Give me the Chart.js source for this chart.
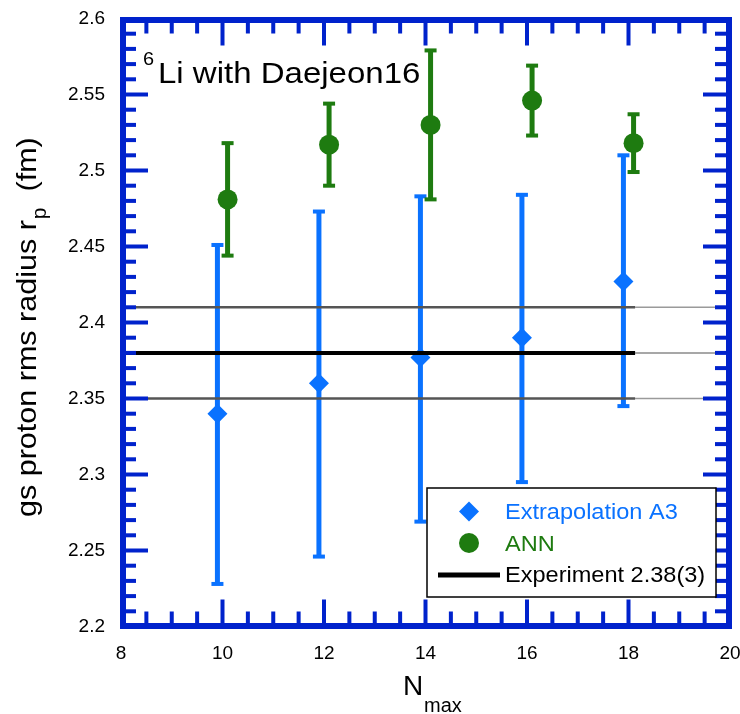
<!DOCTYPE html>
<html>
<head>
<meta charset="utf-8">
<title>6Li gs proton rms radius</title>
<script src="https://cdn.jsdelivr.net/npm/chart.js@4.4.1/dist/chart.umd.min.js"></script>
<style>
  html, body { margin: 0; padding: 0; background: #fff; }
</style>
</head>
<body>
<canvas id="radiusChart" width="740" height="714"></canvas>
<script>
// N_max of each calculation
const nmax = [10, 12, 14, 16, 18];

// Extrapolation A3 : value and ends of the error bar (fm)
const extrapA3 = [2.340, 2.360, 2.377, 2.390, 2.427];
const extrapLow = [2.228, 2.246, 2.269, 2.295, 2.345];
const extrapHigh = [2.451, 2.473, 2.483, 2.484, 2.510];

// ANN predictions
const ann = [2.481, 2.517, 2.530, 2.546, 2.518];
const annLow = [2.444, 2.490, 2.481, 2.523, 2.499];
const annHigh = [2.518, 2.544, 2.579, 2.569, 2.537];

// experiment 2.38(3)
const expValue = 2.38;
const expError = 0.03;
const expSpan = [8, 18.13, 20];   // solid part, then the faint tail

// the two series sit either side of the even N_max
const shiftA3 = -0.1;
const shiftAnn = 0.1;

const xTicks = [8, 10, 12, 14, 16, 18, 20];
const xTickLabels = ['8', '10', '12', '14', '16', '18', '20'];
const yTicks = [2.2, 2.25, 2.3, 2.35, 2.4, 2.45, 2.5, 2.55, 2.6];
const yTickLabels = ['2.2', '2.25', '2.3', '2.35', '2.4', '2.45', '2.5', '2.55', '2.6'];
const xMinorStep = 0.5;
const yMinorStep = 0.01;

const FONT = "'Liberation Sans', Arial, Helvetica, sans-serif";
const FRAME = '#0022cc';
const BLUE = '#0a72ff';
const GREEN = '#1e7b10';

function pts(xs, ys, dx) {
  return xs.map((v, i) => ({ x: v + dx, y: ys[i] }));
}

function hline(y, x0, x1) {
  return [{ x: x0, y: y }, { x: x1, y: y }];
}

function lineSet(data, color, width) {
  return {
    data: data,
    showLine: true,
    borderColor: color,
    borderWidth: width,
    pointRadius: 0,
    pointHoverRadius: 0,
    order: 0
  };
}

// error bars go under the markers of their own dataset
const errorBars = {
  id: 'errorBars',
  beforeDatasetDraw(chart, args) {
    const ds = chart.data.datasets[args.index];
    if (!ds.errLow) return;
    const { ctx, scales: { x, y } } = chart;
    ctx.save();
    ctx.strokeStyle = ds.backgroundColor;
    ctx.fillStyle = ds.backgroundColor;
    ctx.lineWidth = 5;
    ds.data.forEach((p, i) => {
      const px = x.getPixelForValue(p.x);
      const lo = y.getPixelForValue(ds.errLow[i]);
      const hi = y.getPixelForValue(ds.errHigh[i]);
      ctx.beginPath();
      ctx.moveTo(px, lo);
      ctx.lineTo(px, hi);
      ctx.stroke();
      ctx.fillRect(px - 6, lo - 2, 12, 4);
      ctx.fillRect(px - 6, hi - 2, 12, 4);
    });
    ctx.restore();
  }
};

function stretchedText(ctx, text, x, y, size, sx, color) {
  ctx.save();
  ctx.font = size + 'px ' + FONT;
  ctx.fillStyle = color;
  ctx.textBaseline = 'alphabetic';
  ctx.translate(x, y);
  ctx.scale(sx, 1);
  ctx.fillText(text, 0, 0);
  const w = ctx.measureText(text).width * sx;
  ctx.restore();
  return w;
}

// blue box with inward ticks on all four sides, plus titles and legend
const frame = {
  id: 'frame',
  afterDatasetsDraw(chart) {
    const { ctx, chartArea: a, scales: { x, y } } = chart;
    ctx.save();
    ctx.fillStyle = FRAME;
    const nx = Math.round((x.max - x.min) / xMinorStep);
    for (let i = 1; i < nx; i++) {
      const v = x.min + i * xMinorStep;
      const px = x.getPixelForValue(v);
      const len = xTicks.some(t => Math.abs(t - v) < 1e-6) ? 27 : 15;
      ctx.fillRect(px - 2, a.top, 4, len);
      ctx.fillRect(px - 2, a.bottom - len, 4, len);
    }
    const ny = Math.round((y.max - y.min) / yMinorStep);
    for (let i = 1; i < ny; i++) {
      const v = y.min + i * yMinorStep;
      const py = y.getPixelForValue(v);
      const len = yTicks.some(t => Math.abs(t - v) < 1e-6) ? 27 : 15;
      ctx.fillRect(a.left, py - 2, len, 4);
      ctx.fillRect(a.right - len, py - 2, len, 4);
    }
    ctx.strokeStyle = FRAME;
    ctx.lineWidth = 6;
    ctx.strokeRect(a.left + 2, a.top + 1.5, a.width - 3, a.height - 2);
    ctx.restore();
  },
  afterDraw(chart) {
    const ctx = chart.ctx;

    // label inside the box
    stretchedText(ctx, '6', 143, 65, 19, 1.05, '#000');
    stretchedText(ctx, 'Li with Daejeon16', 158, 83, 30, 1.1, '#000');

    // x axis title
    stretchedText(ctx, 'N', 403, 695, 28, 1.0, '#000');
    stretchedText(ctx, 'max', 424, 712, 20, 1.0, '#000');

    // y axis title, read bottom to top
    ctx.save();
    ctx.translate(36, 517);
    ctx.rotate(-Math.PI / 2);
    const w1 = stretchedText(ctx, 'gs proton rms radius r', 0, 0, 28, 1.09, '#000');
    const w2 = stretchedText(ctx, 'p', w1 + 1, 10, 20, 1.05, '#000');
    stretchedText(ctx, '(fm)', w1 + w2 + 17, 0, 28, 1.09, '#000');
    ctx.restore();

    // legend
    const box = { l: 427, t: 488, r: 716, b: 597 };
    ctx.save();
    ctx.fillStyle = '#fff';
    ctx.fillRect(box.l, box.t, box.r - box.l, box.b - box.t);
    ctx.strokeStyle = '#000';
    ctx.lineWidth = 1.5;
    ctx.strokeRect(box.l, box.t, box.r - box.l, box.b - box.t);

    const ds = chart.data.datasets;
    const a3 = ds.find(d => d.label === 'Extrapolation A3');
    const nn = ds.find(d => d.label === 'ANN');
    const mx = 469;

    ctx.fillStyle = a3.backgroundColor;
    ctx.beginPath();
    ctx.moveTo(mx - 10, 511.5);
    ctx.lineTo(mx, 501.5);
    ctx.lineTo(mx + 10, 511.5);
    ctx.lineTo(mx, 521.5);
    ctx.closePath();
    ctx.fill();
    stretchedText(ctx, a3.label, 505, 519, 22, 1.07, a3.backgroundColor);

    ctx.fillStyle = nn.backgroundColor;
    ctx.beginPath();
    ctx.arc(mx, 543, 10, 0, Math.PI * 2);
    ctx.fill();
    stretchedText(ctx, nn.label, 505, 551, 22, 1.07, nn.backgroundColor);

    ctx.fillStyle = '#000';
    ctx.fillRect(438, 572.5, 62, 5);
    stretchedText(ctx, 'Experiment ' + expValue.toFixed(2) + '(' + Math.round(expError * 100) + ')', 505, 582, 22, 1.07, '#000');
    ctx.restore();
  }
};

const ctx = document.getElementById('radiusChart').getContext('2d');
new Chart(ctx, {
  type: 'scatter',
  data: {
    datasets: [
      Object.assign(lineSet(hline(expValue, expSpan[0], expSpan[1]), '#000', 4), { label: 'Experiment' }),
      lineSet(hline(expValue, expSpan[1], expSpan[2]), '#8a8a8a', 1.5),
      lineSet(hline(expValue + expError, expSpan[0], expSpan[1]), '#555', 2.5),
      lineSet(hline(expValue + expError, expSpan[1], expSpan[2]), '#9a9a9a', 1.5),
      lineSet(hline(expValue - expError, expSpan[0], expSpan[1]), '#555', 2.5),
      lineSet(hline(expValue - expError, expSpan[1], expSpan[2]), '#9a9a9a', 1.5),
      {
        label: 'Extrapolation A3',
        data: pts(nmax, extrapA3, shiftA3),
        errLow: extrapLow,
        errHigh: extrapHigh,
        pointStyle: 'rectRot',
        pointRadius: 10,
        pointBorderWidth: 0,
        backgroundColor: BLUE,
        borderColor: BLUE,
        order: 2
      },
      {
        label: 'ANN',
        data: pts(nmax, ann, shiftAnn),
        errLow: annLow,
        errHigh: annHigh,
        pointStyle: 'circle',
        pointRadius: 10,
        pointBorderWidth: 0,
        backgroundColor: GREEN,
        borderColor: GREEN,
        order: 1
      }
    ]
  },
  options: {
    responsive: false,
    animation: false,
    events: [],
    layout: { padding: { left: 0, right: 10, top: 18.5, bottom: 0 } },
    plugins: {
      legend: { display: false },
      tooltip: { enabled: false }
    },
    scales: {
      x: {
        type: 'linear',
        min: 8,
        max: 20,
        grid: { display: false, drawTicks: false },
        border: { display: false },
        afterBuildTicks: s => { s.ticks = xTicks.map(v => ({ value: v })); },
        afterFit: s => { s.height = 87.5; s.paddingLeft = 0; s.paddingRight = 0; },
        ticks: {
          padding: 16,
          color: '#000',
          font: { family: FONT, size: 19 },
          maxRotation: 0,
          autoSkip: false,
          callback: (v, i) => xTickLabels[i]
        }
      },
      y: {
        type: 'linear',
        min: 2.2,
        max: 2.6,
        grid: { display: false, drawTicks: false },
        border: { display: false },
        afterBuildTicks: s => { s.ticks = yTicks.map(v => ({ value: v })); },
        afterFit: s => { s.width = 121; s.paddingTop = 0; s.paddingBottom = 0; },
        ticks: {
          padding: 16,
          color: '#000',
          font: { family: FONT, size: 19 },
          autoSkip: false,
          callback: (v, i) => yTickLabels[i]
        }
      }
    }
  },
  plugins: [errorBars, frame]
});
</script>
</body>
</html>
